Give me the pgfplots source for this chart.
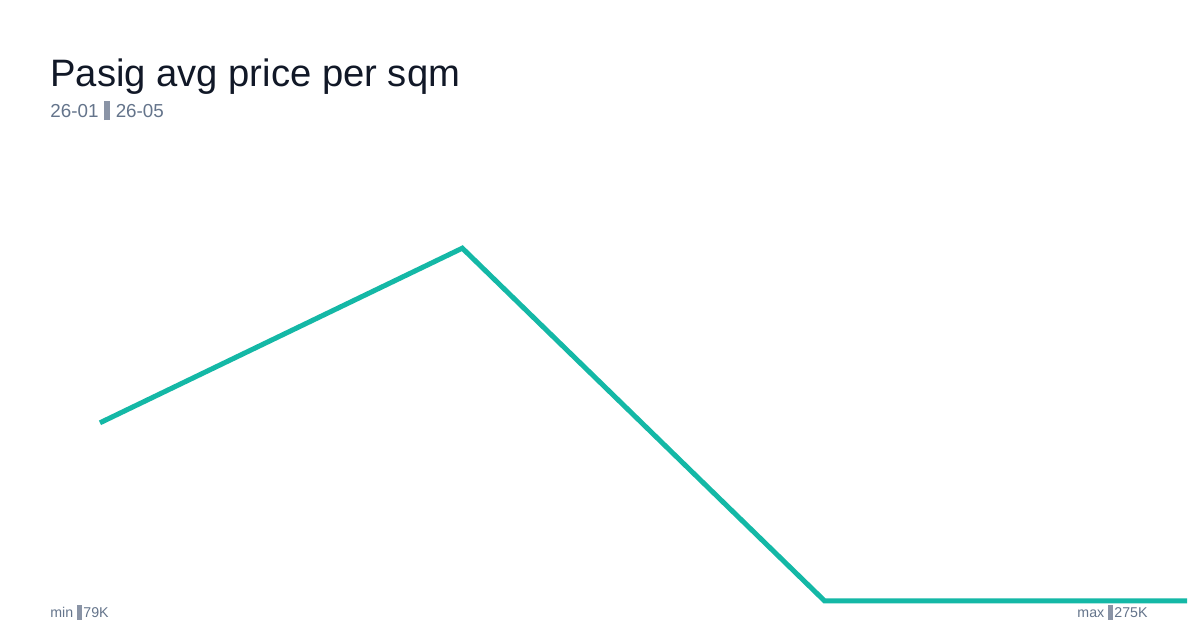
\documentclass[border=0pt]{standalone}
\usepackage{pgfplots}
\pgfplotsset{compat=1.18}
\usepackage{fontspec}
\setmainfont{Liberation Sans}
\definecolor{tealline}{HTML}{14B8A6}
\definecolor{titlecol}{HTML}{111827}
\definecolor{subcol}{HTML}{64748B}
\definecolor{tofu}{HTML}{8A94A6}
\newcommand{\tofu}[1]{\textcolor{tofu}{\rule[-0.12em]{#1}{1.05em}}}
\begin{document}
\begin{tikzpicture}[x=1pt,y=1pt]
  % canvas 1200x630 px at 0.5pt per px
  \useasboundingbox[fill=white] (0,0) rectangle (600,315);
  \begin{axis}[
      at={(50pt,14.5pt)}, anchor=south west,
      scale only axis,
      width=543.5pt, height=176.4pt,
      xmin=0, xmax=3,
      ymin=79, ymax=275,
      hide axis,
      clip=false,
    ]
    \addplot[tealline, line width=2.5pt, line join=miter] coordinates {
      (0,178) (1,275) (2,79) (3,79)
    };
  \end{axis}
  \node[anchor=base west, inner sep=0pt, text=titlecol, font=\fontsize{19.1}{23}\selectfont]
    at (25,271.5) {Pasig avg price per sqm};
  \node[anchor=base west, inner sep=0pt, text=subcol, font=\fontsize{9.4}{11}\selectfont]
    at (25,256) {26-01\hspace{0.3em}\tofu{3pt}\hspace{0.3em}26-05};
  \node[anchor=base west, inner sep=0pt, text=subcol, font=\fontsize{7.1}{8.5}\selectfont]
    at (25,6) {min \tofu{2.4pt}\hspace{0.1em}79K};
  \node[anchor=base east, inner sep=0pt, text=subcol, font=\fontsize{7.1}{8.5}\selectfont]
    at (574,6) {max \tofu{2.4pt}\hspace{0.1em}275K};
\end{tikzpicture}
\end{document}
